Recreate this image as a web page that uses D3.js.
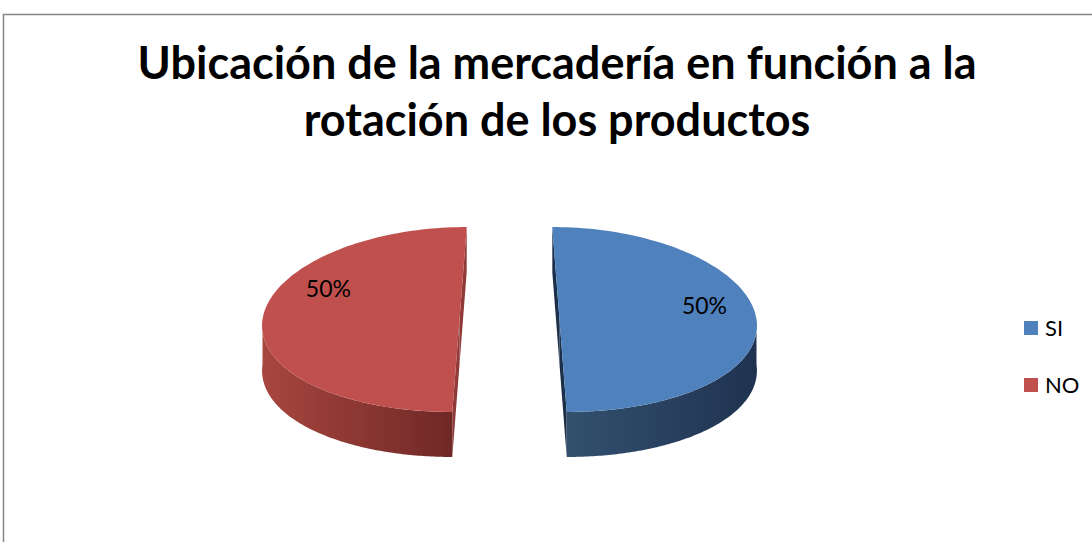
<!DOCTYPE html>
<html>
<head>
<meta charset="utf-8">
<script src="https://cdn.jsdelivr.net/npm/d3@7"></script>
<style>
  body { margin: 0; background: #fff; }
  svg { display: block; }
</style>
</head>
<body>
<div id="chart"></div>
<script>
var titleLines = ["Ubicación de la mercadería en función a la", "rotación de los productos"];
var categories = ["SI", "NO"];
var values = [50, 50];
var colors = ["#4F81BD", "#C0504D"];
var sideColors = [["#33506f", "#1f3350"], ["#a8463f", "#6f2826"]];
var cutColors = ["#1c2f4a", "#8f3a37"];

var width = 1092,
    height = 542;

var svg = d3.select("#chart").append("svg")
    .attr("width", width)
    .attr("height", height);

// chart frame (only top and left borders show in the crop)
svg.append("path")
    .attr("d", "M3.5," + height + "V14.5H" + width)
    .attr("fill", "none")
    .attr("stroke", "#868686")
    .attr("stroke-width", 1.5);

// title, sized to fit the reference width
var title = svg.append("g").attr("class", "title");
var titleSize = 40;
titleLines.forEach(function (t, i) {
    title.append("text")
        .attr("x", 557)
        .attr("y", 79 + i * 57)
        .attr("text-anchor", "middle")
        .style("font-family", "Lato, 'Open Sans', sans-serif")
        .style("font-weight", "bold")
        .style("font-size", titleSize + "px")
        .text(t);
});
var w0 = title.select("text").node().getComputedTextLength();
title.selectAll("text").style("font-size", (titleSize * 839 / w0) + "px");

// pseudo 3d pie
var cx = 509.5, cy = 319.5,
    rx = 197, ry = 92.5,
    depth = 45,
    explode = 50,
    kExp = 0.144, kRim = 0.03;

var pie = d3.pie().sort(null).value(function (d) { return d; });
var arcs = pie(values);
var total = d3.sum(values);
var pct = d3.format(".0%");

// d3 angles run clockwise from 12 o'clock, phi is the ellipse param
function toPhi(a) { return a - Math.PI / 2; }

function proj(phi, mid, z, r) {
    var v = Math.sin(phi) * r;
    return [
        cx + rx * r * Math.cos(phi) * (1 + kRim * v) + explode * Math.cos(mid) * (1 + kExp * v),
        cy + ry * r * Math.sin(phi) + explode * Math.sin(mid) * ry / rx + z
    ];
}

var line = d3.line();

function rimPoints(p0, p1, mid, z) {
    var n = 120;
    return d3.range(n + 1).map(function (i) {
        return proj(p0 + (p1 - p0) * i / n, mid, z, 1);
    });
}

var defs = svg.append("defs");
sideColors.forEach(function (c, i) {
    var g = defs.append("linearGradient")
        .attr("id", "side" + i)
        .attr("x1", 0).attr("x2", 1).attr("y1", 0).attr("y2", 0);
    g.append("stop").attr("offset", "0%").attr("stop-color", c[0]);
    g.append("stop").attr("offset", "100%").attr("stop-color", c[1]);
});

var slices = svg.selectAll(".slice")
    .data(arcs)
    .enter().append("g")
    .attr("class", "slice");

slices.each(function (d, i) {
    var g = d3.select(this);
    var p0 = toPhi(d.startAngle), p1 = toPhi(d.endAngle);
    var mid = (p0 + p1) / 2;

    // cut faces along the two radii
    [p0, p1].forEach(function (p) {
        var quad = [proj(p, mid, 0, 0), proj(p, mid, 0, 1), proj(p, mid, depth, 1), proj(p, mid, depth, 0)];
        g.append("path")
            .attr("d", line(quad) + "Z")
            .attr("fill", cutColors[i]);
    });

    // outer wall, front half only
    var s0 = Math.max(p0, 0), s1 = Math.min(p1, Math.PI);
    if (s1 > s0) {
        var top = rimPoints(s0, s1, mid, 0);
        var bottom = rimPoints(s0, s1, mid, depth).reverse();
        g.append("path")
            .attr("d", line(top.concat(bottom)) + "Z")
            .attr("fill", "url(#side" + i + ")");
    }

    // top face
    var face = rimPoints(p0, p1, mid, 0);
    face.push(proj(0, mid, 0, 0));
    g.append("path")
        .attr("d", line(face) + "Z")
        .attr("fill", colors[i]);
});

// data labels
var labelTurn = [-0.2, 0.45];
slices.append("text")
    .attr("transform", function (d, i) {
        var p0 = toPhi(d.startAngle), p1 = toPhi(d.endAngle);
        var mid = (p0 + p1) / 2;
        var pt = proj(mid + labelTurn[i], mid, 0, 0.76);
        return "translate(" + pt[0] + "," + pt[1] + ")";
    })
    .attr("text-anchor", "middle")
    .attr("dy", "0.35em")
    .style("font-family", "Lato, 'Open Sans', sans-serif")
    .style("font-size", "23px")
    .attr("fill", "#000")
    .text(function (d) { return pct(d.value / total); });

// legend
var legend = svg.selectAll(".legend")
    .data(categories)
    .enter().append("g")
    .attr("class", "legend")
    .attr("transform", function (d, i) {
        return "translate(1024," + (321 + i * 57) + ")";
    });

legend.append("rect")
    .attr("width", 14)
    .attr("height", 14)
    .attr("fill", function (d, i) { return colors[i]; });

legend.append("text")
    .attr("x", 21)
    .attr("y", 15)
    .style("font-family", "Lato, 'Open Sans', sans-serif")
    .style("font-size", "22px")
    .attr("fill", "#000")
    .text(function (d) { return d; });
</script>
</body>
</html>
